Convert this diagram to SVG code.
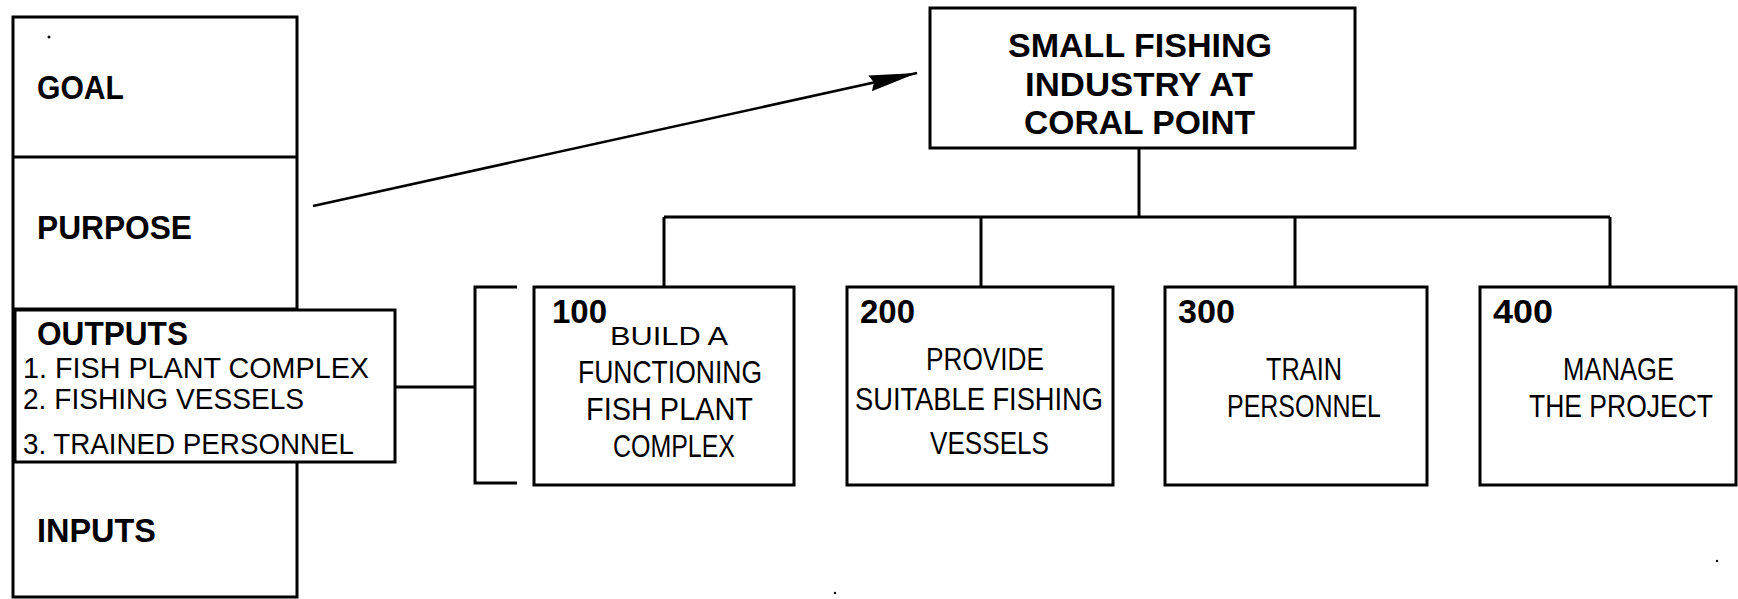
<svg xmlns="http://www.w3.org/2000/svg" width="1738" height="599" viewBox="0 0 1738 599">
<style>
  .box { fill: #fff; stroke: #000; stroke-width: 3; }
  .ln { fill: none; stroke: #000; stroke-width: 3; }
  .arr { fill: none; stroke: #000; stroke-width: 2.5; }
  text { font-family: "Liberation Sans", Arial, sans-serif; fill: #000; }
  .hd { font-size: 33px; font-weight: bold; }
  .ls { font-size: 29px; }
  .top { font-size: 34px; font-weight: bold; }
  .num { font-size: 33px; font-weight: bold; }
  .ds { font-size: 32px; }
</style>
<defs>
  <marker id="ah" markerWidth="50" markerHeight="20" refX="48" refY="8" orient="auto" markerUnits="userSpaceOnUse">
    <path d="M0,0 L48,8 L0,16 L4,8 Z" fill="#000"/>
  </marker>
</defs>
<rect width="1738" height="599" fill="#fff"/>

<g id="logframe">
  <rect class="box" x="13" y="17" width="284" height="580"/>
  <line class="ln" x1="13" y1="157" x2="297" y2="157"/>
  <line class="ln" x1="13" y1="309" x2="297" y2="309"/>
  <circle cx="49" cy="37" r="1.5" fill="#000"/>
  <text class="hd" x="37" y="99" textLength="87" lengthAdjust="spacingAndGlyphs">GOAL</text>
  <text class="hd" x="37" y="239" textLength="155" lengthAdjust="spacingAndGlyphs">PURPOSE</text>
  <text class="hd" x="37" y="542" textLength="119" lengthAdjust="spacingAndGlyphs">INPUTS</text>
</g>

<g id="outputs">
  <rect class="box" x="15" y="310" width="380" height="152"/>
  <text class="hd" x="37" y="345" textLength="151" lengthAdjust="spacingAndGlyphs">OUTPUTS</text>
  <text class="ls" x="23" y="378" textLength="346" lengthAdjust="spacingAndGlyphs">1. FISH PLANT COMPLEX</text>
  <text class="ls" x="23" y="409" textLength="281" lengthAdjust="spacingAndGlyphs">2. FISHING VESSELS</text>
  <text class="ls" x="23" y="454" textLength="331" lengthAdjust="spacingAndGlyphs">3. TRAINED PERSONNEL</text>
</g>

<g id="connectors">
  <line class="arr" x1="313" y1="206" x2="917" y2="73" marker-end="url(#ah)"/>
  <line class="ln" x1="395" y1="387" x2="475" y2="387"/>
  <path class="ln" d="M517,287 H475 V483 H517"/>
  <line class="ln" x1="1139" y1="148" x2="1139" y2="217"/>
  <line class="ln" x1="664" y1="217" x2="1610" y2="217"/>
  <line class="ln" x1="664" y1="217" x2="664" y2="287"/>
  <line class="ln" x1="981" y1="217" x2="981" y2="287"/>
  <line class="ln" x1="1295" y1="217" x2="1295" y2="287"/>
  <line class="ln" x1="1610" y1="217" x2="1610" y2="287"/>
</g>

<g id="goal-node">
  <rect class="box" x="930" y="8" width="425" height="140"/>
  <text class="top" x="1008" y="57" textLength="264" lengthAdjust="spacingAndGlyphs">SMALL FISHING</text>
  <text class="top" x="1025" y="96" textLength="228" lengthAdjust="spacingAndGlyphs">INDUSTRY AT</text>
  <text class="top" x="1024" y="134" textLength="231" lengthAdjust="spacingAndGlyphs">CORAL POINT</text>
</g>

<g id="node-100">
  <rect class="box" x="534" y="287" width="260" height="198"/>
  <text class="num" x="552" y="323" textLength="55" lengthAdjust="spacingAndGlyphs">100</text>
  <text class="ds" x="610" y="345" textLength="118" lengthAdjust="spacingAndGlyphs" style="font-size:26px">BUILD A</text>
  <text class="ds" x="578" y="383" textLength="184" lengthAdjust="spacingAndGlyphs">FUNCTIONING</text>
  <text class="ds" x="586" y="420" textLength="167" lengthAdjust="spacingAndGlyphs">FISH PLANT</text>
  <text class="ds" x="613" y="457" textLength="122" lengthAdjust="spacingAndGlyphs">COMPLEX</text>
</g>

<g id="node-200">
  <rect class="box" x="847" y="287" width="266" height="198"/>
  <text class="num" x="860" y="323" textLength="55" lengthAdjust="spacingAndGlyphs">200</text>
  <text class="ds" x="926" y="370" textLength="118" lengthAdjust="spacingAndGlyphs">PROVIDE</text>
  <text class="ds" x="855" y="410" textLength="248" lengthAdjust="spacingAndGlyphs">SUITABLE FISHING</text>
  <text class="ds" x="930" y="454" textLength="119" lengthAdjust="spacingAndGlyphs">VESSELS</text>
</g>

<g id="node-300">
  <rect class="box" x="1165" y="287" width="262" height="198"/>
  <text class="num" x="1178" y="323" textLength="57" lengthAdjust="spacingAndGlyphs">300</text>
  <text class="ds" x="1266" y="380" textLength="76" lengthAdjust="spacingAndGlyphs">TRAIN</text>
  <text class="ds" x="1227" y="417" textLength="154" lengthAdjust="spacingAndGlyphs">PERSONNEL</text>
</g>

<g id="node-400">
  <rect class="box" x="1480" y="287" width="256" height="198"/>
  <text class="num" x="1493" y="323" textLength="60" lengthAdjust="spacingAndGlyphs">400</text>
  <text class="ds" x="1563" y="380" textLength="111" lengthAdjust="spacingAndGlyphs">MANAGE</text>
  <text class="ds" x="1529" y="417" textLength="184" lengthAdjust="spacingAndGlyphs">THE PROJECT</text>
</g>

<circle cx="835" cy="593" r="1.2" fill="#000"/>
<circle cx="1717" cy="561" r="1.2" fill="#000"/>
</svg>
